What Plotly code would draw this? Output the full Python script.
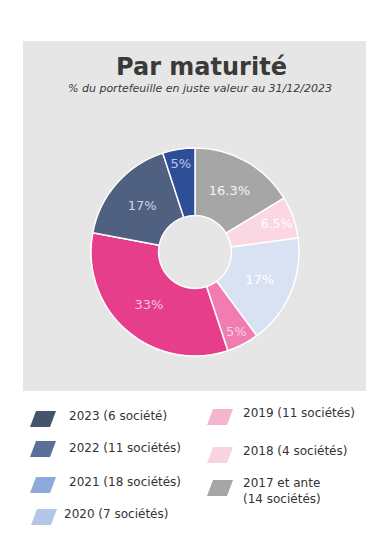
import plotly.graph_objects as go

# Pie data (clockwise from 12 o'clock)
slice_labels = ["2017 et ante", "2018", "2020", "2019", "2021", "2022", "2023"]
slice_values = [16.3, 6.5, 17, 5, 33, 17, 5]
slice_text = ["16.3%", "6.5%", "17%", "5%", "33%", "17%", "5%"]
slice_colors = ["#a6a6a6", "#fbd6e4", "#d9e2f3", "#f07cb2", "#e63e8a", "#4f6080", "#2e4e98"]
slice_text_colors = ["#f4f4f4", "#ffffff", "#ffffff", "#fbd0e2", "#f8c4db", "#cbd7ee", "#b8caea"]

# Legend data
legend_labels = ["2023 (6 société)", "2022 (11 sociétés)", "2021 (18 sociétés)", "2020 (7 sociétés)",
                 "2019 (11 sociétés)", "2018 (4 sociétés)", "2017 et ante<br>(14 sociétés)"]
legend_colors = ["#44546a", "#5a7099", "#8eaadb", "#b4c6e7", "#f4b5cf", "#fad3e2", "#a6a6a6"]

title = "Par maturité"
subtitle = "% du portefeuille en juste valeur au 31/12/2023"

PAGE_W, PAGE_H = 392, 543
OFF = 8  # default body margin of the html page
W, H = PAGE_W - 2 * OFF, PAGE_H - 2 * OFF


def px(x):
    return (x - OFF) / W


def py(y):
    return 1 - (y - OFF) / H


fig = go.Figure()

fig.add_trace(go.Pie(
    labels=slice_labels, values=slice_values, text=slice_text,
    textinfo="text", textposition="inside", insidetextorientation="horizontal",
    sort=False, direction="clockwise", rotation=0, hole=0.35,
    marker=dict(colors=slice_colors, line=dict(color="#ffffff", width=1.5)),
    textfont=dict(family="DejaVu Sans", size=13, color=slice_text_colors),
    domain=dict(x=[px(91), px(299)], y=[py(356), py(148)]),
    showlegend=False, hoverinfo="label+percent",
))

# invisible axes in page-pixel units for panel / legend
fig.update_layout(
    xaxis=dict(range=[OFF, OFF + W], visible=False, domain=[0, 1], fixedrange=True),
    yaxis=dict(range=[OFF + H, OFF], visible=False, domain=[0, 1], fixedrange=True),
)

shapes = [dict(type="rect", xref="x", yref="y", x0=23, x1=366, y0=41, y1=391,
               fillcolor="#e6e6e6", line=dict(width=0), layer="below")]

annotations = [
    dict(text="<b>" + title + "</b>", x=201, y=67, xref="x", yref="y", showarrow=False,
         font=dict(family="DejaVu Sans", size=24, color="#3a3a3a"), xanchor="center", yanchor="middle"),
    dict(text="<i>" + subtitle + "</i>", x=200, y=88, xref="x", yref="y", showarrow=False,
         font=dict(family="DejaVu Sans", size=11, color="#3a3a3a"), xanchor="center", yanchor="middle"),
]

# legend layout: two columns
col_pos = [(30, 67), (30, 67), (30, 67), (31, 62), (207, 241), (207, 241), (207, 241)]
marker_y = [419, 449, 485, 517, 417, 455, 488]
text_y = [416, 448, 482, 514, 413, 451, 491]
for i, lab in enumerate(legend_labels):
    mx, tx = col_pos[i]
    cy = marker_y[i]
    h = 8
    path = f"M {mx},{cy + h} L {mx + 20},{cy + h} L {mx + 26},{cy - h} L {mx + 6},{cy - h} Z"
    shapes.append(dict(type="path", xref="x", yref="y", path=path,
                       fillcolor=legend_colors[i], line=dict(width=0)))
    annotations.append(dict(text=lab, x=tx, y=text_y[i], xref="x", yref="y", showarrow=False,
                            xanchor="left", yanchor="middle", align="left",
                            font=dict(family="DejaVu Sans", size=12, color="#333333")))

fig.update_layout(
    width=W, height=H, margin=dict(l=0, r=0, t=0, b=0),
    paper_bgcolor="#ffffff", plot_bgcolor="rgba(0,0,0,0)",
    shapes=shapes, annotations=annotations,
)

fig.write_html("out.html")
